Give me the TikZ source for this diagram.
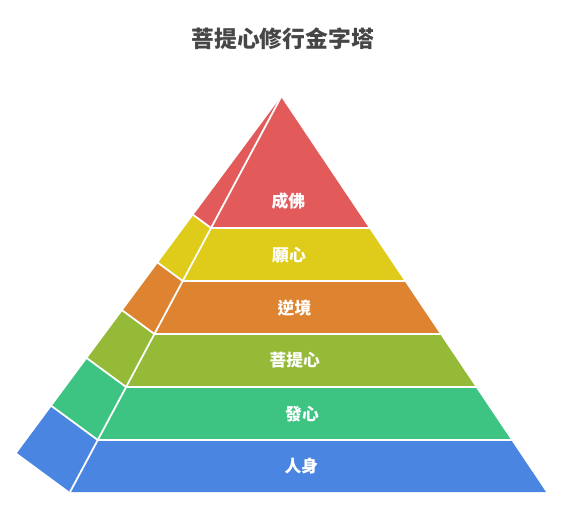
\documentclass[tikz,border=0pt]{standalone}
\usepackage{fontspec}
\newfontfamily\cjk{Noto Sans CJK TC}
\usetikzlibrary{calc}
\definecolor{cRed}{HTML}{E35A5A}
\definecolor{cYel}{HTML}{DECB1A}
\definecolor{cOra}{HTML}{DE8430}
\definecolor{cYg}{HTML}{94BA38}
\definecolor{cGrn}{HTML}{3DC483}
\definecolor{cBlu}{HTML}{4A85E1}
\definecolor{cTitle}{HTML}{464646}
\tikzset{
  sep/.style={draw=white, line width=1.8pt, line cap=round},
  lbl/.style={text=white, font=\cjk\bfseries\fontsize{16.8}{20}\selectfont, inner sep=0pt},
  ttl/.style={text=cTitle, font=\cjk\bfseries\fontsize{22.8}{27}\selectfont, inner sep=0pt}
}
\begin{document}
\begin{tikzpicture}[x=1pt,y=-1pt]
\useasboundingbox (0,0) rectangle (569,509);
\coordinate (A) at (281,97);
\coordinate (BL) at (70,492);
\coordinate (BR) at (546,492);
\coordinate (BS) at (17,453);
\coordinate (l0) at (A); \coordinate (r0) at (A); \coordinate (s0) at (A);
\foreach \i/\t in {1/0.3316,2/0.4658,3/0.6,4/0.7342,5/0.8684,6/1}{
  \coordinate (l\i) at ($(A)!\t!(BL)$);
  \coordinate (r\i) at ($(A)!\t!(BR)$);
  \coordinate (s\i) at ($(A)!\t!(BS)$);
}
% front and side bands
\fill[cRed] (A) -- (r1) -- (l1) -- cycle;
\fill[cRed] (A) -- (l1) -- (s1) -- cycle;
\foreach \i/\j/\c in {1/2/cYel,2/3/cOra,3/4/cYg,4/5/cGrn,5/6/cBlu}{
  \fill[\c] (l\i) -- (r\i) -- (r\j) -- (l\j) -- cycle;
  \fill[\c] (s\i) -- (l\i) -- (l\j) -- (s\j) -- cycle;
}
% white separators
\draw[sep] (A) -- (BL);
\foreach \i in {1,...,5}{
  \draw[sep] (s\i) -- (l\i) -- (r\i);
}
% labels
\node[lbl] (n1) at (288.3,201) {成佛};
\node[lbl] (n2) at (289,255.5) {願心};
\node[lbl] (n3) at (294.5,308) {逆境};
\node[lbl] (n4) at (294.7,360) {菩提心};
\node[lbl] (n5) at (302,414) {發心};
\node[lbl] (n6) at (301.3,466.5) {人身};
\node[ttl] (title) at (282.7,38.5) {菩提心修行金字塔};
\end{tikzpicture}
\end{document}
